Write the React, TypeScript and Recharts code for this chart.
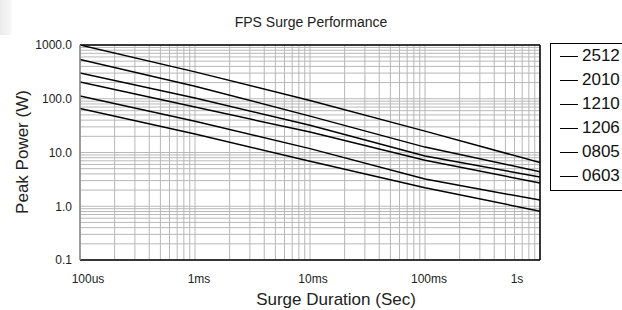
import React from 'react';
import { LineChart, Line, XAxis, YAxis, CartesianGrid, ReferenceLine, Label } from 'recharts';

const FONT = '"Liberation Sans", Arial, sans-serif';

// surge duration in seconds (decade points)
const durations = [0.0001, 0.001, 0.01, 0.1, 1];
const durationLabels = ['100us', '1ms', '10ms', '100ms', '1s'];
const powerTicks = [0.1, 1, 10, 100, 1000];

// peak power (W) per package size
const p2512 = [1000, 316, 93, 25, 6.5];
const p2010 = [537, 171, 47.5, 12.6, 4.4];
const p1210 = [303, 103, 32, 8.6, 3.5];
const p1206 = [206, 70, 24, 7.2, 2.7];
const p0805 = [112, 38, 11.8, 3.2, 1.3];
const p0603 = [66, 22, 6.9, 2.2, 0.81];

const seriesNames = ['2512', '2010', '1210', '1206', '0805', '0603'];
const seriesValues = [p2512, p2010, p1210, p1206, p0805, p0603];

const rows = durations.map((t, i) => {
  const row: Record<string, number> = { t };
  seriesNames.forEach((name, s) => {
    row[name] = seriesValues[s][i];
  });
  return row;
});

// log grid: 1..9 per decade
const logGrid = (from: number, decades: number) => {
  const out: number[] = [];
  for (let d = 0; d < decades; d++) {
    const base = from * Math.pow(10, d);
    for (let m = 1; m <= 9; m++) out.push(m * base);
  }
  out.push(from * Math.pow(10, decades));
  return out;
};
const xGrid = logGrid(0.0001, 4);
const yGrid = logGrid(0.1, 4);

// labels sit a little off their grid lines in the original
const tickShift = [8, 4, 3, 4, -23];

const XTick = (props: any) => {
  const { x, y, payload } = props;
  const i = durations.indexOf(payload.value);
  return (
    <text x={x + (tickShift[i] || 0)} y={y + 21} textAnchor="middle" fontSize={12} fill="#222" fontFamily={FONT}>
      {durationLabels[i]}
    </text>
  );
};

const Legendbox = () => (
  <div
    style={{
      position: 'absolute',
      left: 550,
      top: 43,
      width: 80,
      height: 148,
      border: '1px solid #000',
      boxSizing: 'border-box',
      background: '#fff',
      fontFamily: FONT,
      fontSize: 17,
      color: '#111',
    }}
  >
    {seriesNames.map((name) => (
      <div key={name} style={{ display: 'flex', alignItems: 'center', height: 24 }}>
        <span style={{ width: 18, height: 0, borderTop: '1.5px solid #000', marginLeft: 9, marginRight: 4 }} />
        <span>{name}</span>
      </div>
    ))}
  </div>
);

export default function App() {
  return (
    <div style={{ position: 'absolute', left: 0, top: 0, width: 622, height: 310, overflow: 'hidden', background: '#fff' }}>
      <div style={{ position: 'absolute', left: 0, top: 0, width: 12, height: 35, background: 'linear-gradient(to right, #ebebeb, #f9f9f9)' }} />
      <LineChart width={622} height={310} data={rows} margin={{ top: 45, right: 82, bottom: 0, left: 0 }}>
        <CartesianGrid stroke="#b8b8b8" verticalValues={xGrid} horizontalValues={yGrid} />
        <XAxis
          dataKey="t"
          type="number"
          scale="log"
          domain={[0.0001, 1]}
          allowDataOverflow
          ticks={durations}
          interval={0}
          tick={<XTick />}
          tickLine={false}
          tickSize={0}
          axisLine={{ stroke: '#000', strokeWidth: 1.5 }}
          height={50}
        >
          <Label
            content={() => (
              <text x={336} y={305} textAnchor="middle" fontSize={17} fill="#222" fontFamily={FONT}>
                Surge Duration (Sec)
              </text>
            )}
          />
        </XAxis>
        <YAxis
          type="number"
          scale="log"
          domain={[0.1, 1000]}
          allowDataOverflow
          ticks={powerTicks}
          interval={0}
          tickFormatter={(v: number) => v.toFixed(1)}
          tick={{ fontSize: 12, fill: '#222', fontFamily: FONT }}
          tickLine={false}
          tickSize={0}
          tickMargin={8}
          axisLine={{ stroke: '#888', strokeWidth: 1.5 }}
          width={80}
        >
          <Label
            content={() => (
              <text x={28} y={152} transform="rotate(-90 28 152)" textAnchor="middle" fontSize={17} fill="#222" fontFamily={FONT}>
                Peak Power (W)
              </text>
            )}
          />
        </YAxis>
        <ReferenceLine y={1000} stroke="#000" strokeWidth={1.5} />
        <ReferenceLine x={1} stroke="#000" strokeWidth={1.5} />
        {seriesNames.map((name) => (
          <Line
            key={name}
            type="linear"
            dataKey={name}
            stroke="#000"
            strokeWidth={1.5}
            dot={false}
            isAnimationActive={false}
          />
        ))}
        <text x={311} y={27} textAnchor="middle" fontSize={14} fill="#222" fontFamily={FONT}>
          FPS Surge Performance
        </text>
      </LineChart>
      <Legendbox />
    </div>
  );
}
